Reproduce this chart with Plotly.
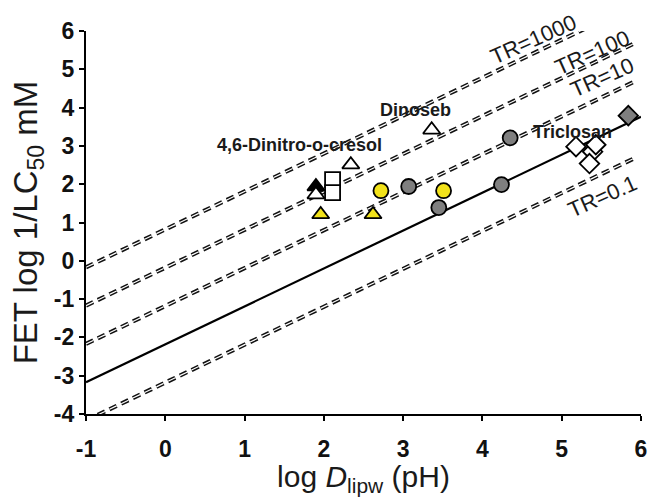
import math
import plotly.graph_objects as go

# ---- data ----
yellow_circle_x = [2.72, 3.51]
yellow_circle_y = [1.83, 1.83]
gray_circle_x = [3.07, 3.45, 4.24, 4.35]
gray_circle_y = [1.94, 1.39, 1.99, 3.21]
yellow_tri_x = [1.96, 2.62]
yellow_tri_y = [1.21, 1.21]
black_tri_x = [1.90]
black_tri_y = [1.94]
open_tri_x = [1.90, 2.34, 3.36]
open_tri_y = [1.73, 2.51, 3.42]
open_sq_x = [2.11, 2.11]
open_sq_y = [2.12, 1.78]
open_dia_x = [5.18, 5.39, 5.43, 5.35]
open_dia_y = [2.98, 2.85, 3.03, 2.54]
gray_dia_x = [5.84]
gray_dia_y = [3.79]

# regression line
fit_slope = 0.99
fit_intercept = -2.18
fit_x = [-1, 6]
# toxic ratio lines
tr_labels = ["TR=1000", "TR=100", "TR=10", "TR=0.1"]
tr_values = [1000, 100, 10, 0.1]
tr_x = [-1, 5.92]
tr_label_x = [4.64, 5.39, 5.51, 5.51]
tr_label_y = [5.77, 5.43, 4.78, 1.68]

compound_names = ["4,6-Dinitro-o-cresol", "Dinoseb", "Triclosan"]
compound_x = [1.69, 3.15, 5.14]
compound_y = [3.03, 3.94, 3.37]

x_ticks = [-1, 0, 1, 2, 3, 4, 5, 6]
y_ticks = [-4, -3, -2, -1, 0, 1, 2, 3, 4, 5, 6]

TXT = "#1a1a1a"
FONT = "Liberation Sans"

fig = go.Figure()

for tr in tr_values:
    ys = [fit_slope * x + fit_intercept + math.log10(tr) for x in tr_x]
    fig.add_trace(go.Scatter(x=tr_x, y=ys, mode="lines",
                             line=dict(color="#111111", width=4.2, dash="8px,5px"),
                             hoverinfo="skip", showlegend=False))
    fig.add_trace(go.Scatter(x=tr_x, y=ys, mode="lines",
                             line=dict(color="white", width=1.2, dash="8px,5px"),
                             hoverinfo="skip", showlegend=False))

fig.add_trace(go.Scatter(x=fit_x, y=[fit_slope * x + fit_intercept for x in fit_x],
                         mode="lines", line=dict(color="black", width=2.2),
                         showlegend=False))

def pts(x, y, symbol, fill, size=14):
    fig.add_trace(go.Scatter(x=x, y=y, mode="markers", showlegend=False,
                             marker=dict(symbol=symbol, size=size, color=fill,
                                         line=dict(color="black", width=1.8))))

pts(black_tri_x, black_tri_y, "triangle-up", "black", 15)
pts(open_tri_x, open_tri_y, "triangle-up", "white", 15)
pts(open_sq_x, open_sq_y, "square", "white", 15)
pts(yellow_tri_x, yellow_tri_y, "triangle-up", "#f2e21a", 15)
pts(yellow_circle_x, yellow_circle_y, "circle", "#f2e21a", 15)
pts(gray_circle_x, gray_circle_y, "circle", "#7f7f7f", 15)
pts(open_dia_x, open_dia_y, "diamond", "white", 15)
pts(gray_dia_x, gray_dia_y, "diamond", "#7f7f7f", 15)

for name, x, y in zip(compound_names, compound_x, compound_y):
    fig.add_annotation(x=x, y=y, text="<b>" + name + "</b>", showarrow=False,
                       font=dict(family=FONT, size=18, color=TXT))

for lab, x, y in zip(tr_labels, tr_label_x, tr_label_y):
    fig.add_annotation(x=x, y=y, text=lab, showarrow=False, textangle=-24,
                       font=dict(family=FONT, size=22, color=TXT))

axis_common = dict(showline=True, linecolor="black", linewidth=2.2, ticks="outside",
                   ticklen=5, tickwidth=2.2, tickcolor="black", showgrid=False,
                   zeroline=False, mirror=False,
                   tickfont=dict(family=FONT, size=23, color="#111111", weight=700))

fig.update_xaxes(range=[-1, 6], tickmode="array", tickvals=x_ticks,
                 ticktext=["%d" % v for v in x_ticks], ticklabelstandoff=8,
                 title=dict(text="log <i>D</i><sub>lipw</sub> (pH)", standoff=2,
                            font=dict(family=FONT, size=30, color=TXT)),
                 **axis_common)
fig.update_yaxes(range=[-4, 6], tickmode="array", tickvals=y_ticks,
                 ticktext=["%d" % v for v in y_ticks],
                 title=dict(text="FET log 1/LC<sub>50</sub> mM", standoff=6,
                            font=dict(family=FONT, size=33, color=TXT)),
                 **axis_common)

fig.update_layout(width=659, height=497, margin=dict(l=86, r=13, t=31, b=82),
                  plot_bgcolor="white", paper_bgcolor="white")

fig.write_html("out.html")
